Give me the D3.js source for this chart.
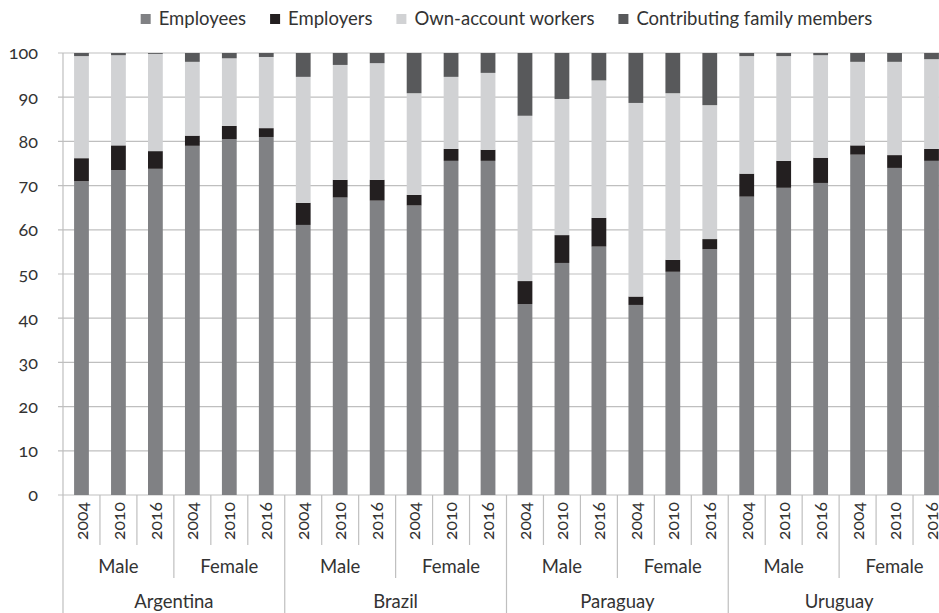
<!DOCTYPE html>
<html>
<head>
<meta charset="utf-8">
<script src="https://cdn.jsdelivr.net/npm/d3@7"></script>
<style>
  body { margin: 0; background: #fff; }
  svg { display: block; font-family: Lato, "Open Sans", sans-serif; font-variant-numeric: oldstyle-nums; }
</style>
</head>
<body>
<div class="container"></div>
<script>
var w = 939;
var h = 613;

var countries = ["Argentina", "Brazil", "Paraguay", "Uruguay"];
var genders = ["Male", "Female"];
var years = ["2004", "2010", "2016"];
var seriesNames = ["Employees", "Employers", "Own-account workers", "Contributing family members"];
var seriesColors = ["#808184", "#231f20", "#d1d2d4", "#58595b"];
var yTicks = [0, 10, 20, 30, 40, 50, 60, 70, 80, 90, 100];

// one value per bar: country > gender > year
var employees = [71.0, 73.5, 73.8, 79.0, 80.5, 81.0,
                 61.1, 67.3, 66.6, 65.5, 75.6, 75.6,
                 43.2, 52.5, 56.2, 43.0, 50.5, 55.6,
                 67.5, 69.5, 70.6, 77.0, 74.0, 75.6];
var employers = [5.2, 5.6, 4.0, 2.3, 3.0, 2.0,
                 5.0, 4.0, 4.7, 2.4, 2.7, 2.5,
                 5.2, 6.3, 6.5, 1.9, 2.7, 2.3,
                 5.2, 6.1, 5.7, 2.1, 2.9, 2.7];
var ownAccount = [23.1, 20.4, 22.0, 16.7, 15.3, 16.1,
                  28.5, 26.0, 26.4, 23.0, 16.3, 17.4,
                  37.4, 30.8, 31.1, 43.8, 37.7, 30.3,
                  26.6, 23.7, 23.2, 18.9, 21.1, 20.3];
var contributing = [0.7, 0.5, 0.2, 2.0, 1.2, 0.9,
                    5.4, 2.7, 2.3, 9.1, 5.4, 4.5,
                    14.2, 10.4, 6.2, 11.3, 9.1, 11.8,
                    0.7, 0.7, 0.5, 2.0, 2.0, 1.4];

var bars = [];
countries.forEach(c => genders.forEach(g => years.forEach(y => bars.push({country: c, gender: g, year: y}))));
bars.forEach((b, i) => {
  b.key = i;
  b[seriesNames[0]] = employees[i];
  b[seriesNames[1]] = employers[i];
  b[seriesNames[2]] = ownAccount[i];
  b[seriesNames[3]] = contributing[i];
});

var mLeft = 63, mRight = 950, mTop = 53, mBottom = 495;
var grid = "#bfbfbf";
var textColor = "#333";

var canvas = d3.select(".container").append("svg").attr("width", w).attr("height", h);

var x = d3.scaleBand().domain(bars.map(d => d.key)).range([mLeft, mRight]).paddingInner(0.6).paddingOuter(0.3);
var step = x.step();
var y = d3.scaleLinear().domain([0, 100]).range([mBottom, mTop]);

// gridlines + y labels
canvas.append("g").selectAll("line").data(yTicks).enter().append("line")
  .attr("x1", mLeft - 5).attr("x2", mRight)
  .attr("y1", d => y(d)).attr("y2", d => y(d))
  .attr("stroke", grid).attr("stroke-width", 1.2);

canvas.append("g").selectAll("text").data(yTicks).enter().append("text")
  .attr("x", 38).attr("y", d => y(d)).attr("dy", "0.35em")
  .attr("text-anchor", "end").attr("font-size", 18).attr("fill", textColor)
  .text(d => d);

// stacked bars
var stack = d3.stack().keys(seriesNames)(bars);
canvas.append("g").selectAll("g").data(stack).enter().append("g")
  .attr("fill", (d, i) => seriesColors[i])
  .selectAll("rect").data(d => d).enter().append("rect")
  .attr("x", d => x(d.data.key))
  .attr("width", x.bandwidth())
  .attr("y", d => y(d[1]))
  .attr("height", d => y(d[0]) - y(d[1]));

// category axis dividers
var axis = canvas.append("g").attr("stroke", grid).attr("stroke-width", 1.2);
d3.range(0, bars.length + 1).forEach(i => {
  var xx = mLeft + i * step;
  var y2 = i % 6 === 0 ? h : (i % 3 === 0 ? 578 : 545);
  axis.append("line").attr("x1", xx).attr("x2", xx).attr("y1", i === 0 ? mTop : mBottom).attr("y2", y2);
});

// year labels
canvas.append("g").selectAll("text").data(bars).enter().append("text")
  .attr("transform", d => "translate(" + (x(d.key) + x.bandwidth() / 2) + ",521) rotate(-90)")
  .attr("dy", "0.35em").attr("text-anchor", "middle")
  .attr("font-size", 17.5).attr("fill", textColor)
  .text(d => d.year);

// gender labels
var genderGroups = [];
countries.forEach((c, ci) => genders.forEach((g, gi) => genderGroups.push({label: g, i: ci * 6 + gi * 3})));
canvas.append("g").selectAll("text").data(genderGroups).enter().append("text")
  .attr("x", d => mLeft + (d.i + 1.5) * step).attr("y", 567).attr("dy", "0.35em")
  .attr("text-anchor", "middle").attr("font-size", 18.5).attr("fill", textColor)
  .text(d => d.label);

// country labels
canvas.append("g").selectAll("text").data(countries).enter().append("text")
  .attr("x", (d, i) => mLeft + (i * 6 + 3) * step).attr("y", 602).attr("dy", "0.35em")
  .attr("text-anchor", "middle").attr("font-size", 18.5).attr("fill", textColor)
  .text(d => d);

// legend
var legend = canvas.append("g");
var items = legend.selectAll("g").data(seriesNames).enter().append("g");
items.append("rect").attr("width", 10).attr("height", 10).attr("y", 14).attr("fill", (d, i) => seriesColors[i]);
items.append("text").attr("x", 18).attr("y", 19).attr("dy", "0.35em")
  .attr("font-size", 18.5).attr("fill", textColor).text(d => d);
var pos = 0;
items.each(function() {
  d3.select(this).attr("transform", "translate(" + pos + ",0)");
  pos += this.getBBox().width + 24;
});
pos -= 24;
legend.attr("transform", "translate(" + ((mLeft + mRight) / 2 - pos / 2) + ",0)");
</script>
</body>
</html>
